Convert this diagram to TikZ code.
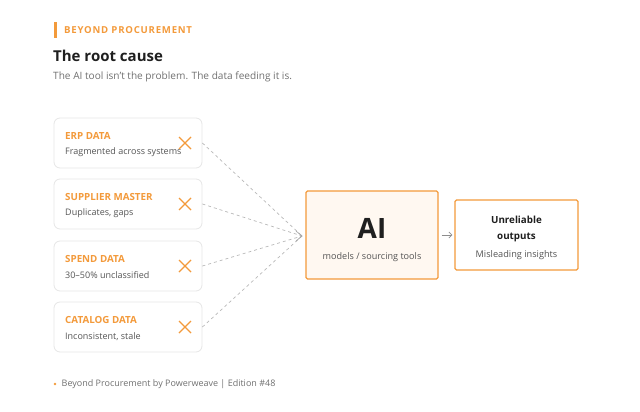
\documentclass[tikz,border=0pt]{standalone}
\usepackage{fontspec}
\setmainfont{Open Sans}
\newfontfamily\kickerfont[LetterSpace=8]{Open Sans}
\usetikzlibrary{arrows.meta,calc}
\definecolor{accent}{HTML}{F39A3B}
\definecolor{txt}{HTML}{1F1F1F}
\definecolor{sub}{HTML}{707070}
\definecolor{desc}{HTML}{555555}
\definecolor{boxline}{HTML}{E6E6E6}
\definecolor{cream}{HTML}{FFF8F1}
\definecolor{dashc}{HTML}{B8B8B8}
\tikzset{
  srcbox/.style={draw=boxline, line width=0.8pt, rounded corners=6pt, fill=white, minimum width=148pt, minimum height=50pt, inner sep=0pt},
  srclabel/.style={anchor=west, text=accent, font=\fontsize{9.8}{11}\selectfont\bfseries, inner sep=0pt},
  srcdesc/.style={anchor=west, text=desc, font=\fontsize{9}{10}\selectfont, inner sep=0pt},
  xmark/.style={draw=accent, line width=1.3pt},
  feed/.style={draw=dashc, dashed, dash pattern=on 3pt off 3pt, line width=0.7pt},
}
\begin{document}
\begin{tikzpicture}[x=1pt,y=-1pt]
\useasboundingbox (0,0) rectangle (640,412);
% header
\fill[accent] (53.5,22) rectangle (56.5,38);
\node[anchor=west, inner sep=0pt, text=accent, font=\kickerfont\fontsize{9.6}{11}\selectfont\bfseries] (kicker) at (64,30.5) {BEYOND PROCUREMENT};
\node[anchor=west, inner sep=0pt, text=txt, font=\fontsize{15}{17}\selectfont\bfseries] (title) at (53,55.5) {The root cause};
\node[anchor=west, inner sep=0pt, text=sub, font=\fontsize{10.1}{12}\selectfont] (subtitle) at (53,77) {The AI tool isn't the problem. The data feeding it is.};
% source boxes
\foreach \i/\y/\lab/\d in {1/143/ERP DATA/Fragmented across systems, 2/204/SUPPLIER MASTER/{Duplicates, gaps}, 3/266/SPEND DATA/30–50\% unclassified, 4/327/CATALOG DATA/{Inconsistent, stale}}{
  \node[srcbox] (s\i) at (128,\y) {};
  \node[srclabel] (l\i) at (65,\y-7.5) {\lab};
  \node[srcdesc] (d\i) at (65,\y+9.5) {\d};
  \coordinate (x\i) at (185,\y);
  \draw[xmark] ($(x\i)+(-6,-6)$) -- ($(x\i)+(6,6)$) ($(x\i)+(-6,6)$) -- ($(x\i)+(6,-6)$);
}
% AI box
\node[draw=accent, line width=1.2pt, fill=cream, rounded corners=1.5pt, minimum width=132pt, minimum height=88pt, inner sep=0pt] (ai) at (372,235) {};
\node[inner sep=0pt, text=txt, font=\fontsize{28}{30}\selectfont\bfseries] (aitxt) at (372,228) {AI};
\node[inner sep=0pt, text=desc, font=\fontsize{9.1}{11}\selectfont] (aisub) at (372,257) {models / sourcing tools};
\coordinate (tip) at (302,236);
\foreach \i in {1,...,4}{
  \draw[feed] (s\i.east) -- (tip);
}
\draw[dashc!90!black, line width=0.7pt] (296,231) -- (tip) -- (296,241);
% output box
\node[draw=accent, line width=1.2pt, fill=white, rounded corners=1.5pt, minimum width=123pt, minimum height=70pt, inner sep=0pt] (out) at (516.5,235) {};
\node[inner sep=0pt, text=txt, font=\fontsize{9.8}{15.5}\selectfont\bfseries, align=center] (outtxt) at (516.5,229) {Unreliable\\outputs};
\node[inner sep=0pt, text=desc, font=\fontsize{9.2}{11}\selectfont] (outsub) at (516.5,255) {Misleading insights};
\draw[-{Straight Barb[length=3pt,width=6pt]}, draw=sub!80, line width=0.8pt] ($(ai.east)+(3,0)$) -- ($(out.west)+(-2,0)$);
% footer
\fill[accent] (55,384) circle (1.3pt);
\node[anchor=west, inner sep=0pt, text=sub, font=\fontsize{9}{11}\selectfont] (footer) at (61.5,384.5) {Beyond Procurement by Powerweave | Edition \#48};
\end{tikzpicture}
\end{document}
